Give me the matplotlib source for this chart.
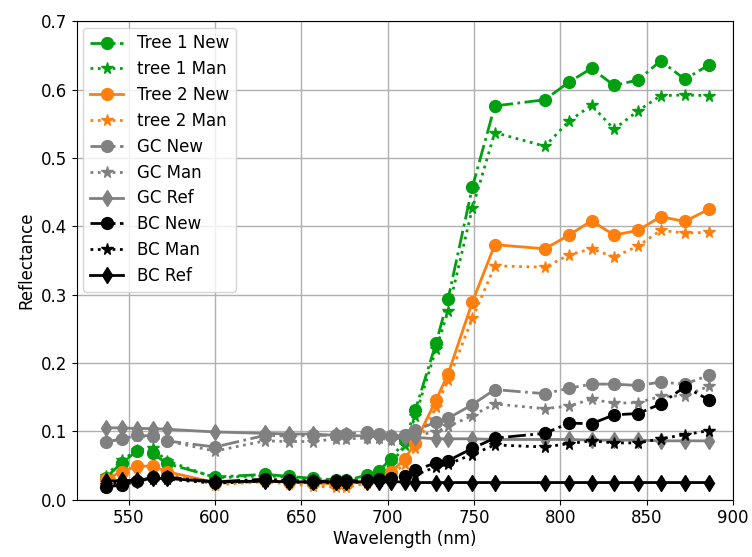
import matplotlib
matplotlib.use("Agg")
import matplotlib.pyplot as plt

# Band centres (nm)
wavelength = [537, 546, 555, 564, 572, 600, 629, 643, 657, 670, 676, 688, 695, 702,
              710, 716, 728, 735, 749, 762, 791, 805, 818, 831, 845, 858, 872, 886]

tree1_new = [0.032, 0.054, 0.071, 0.068, 0.053, 0.033, 0.037, 0.034, 0.031, 0.029, 0.028, 0.036, 0.042, 0.060,
             0.087, 0.131, 0.229, 0.294, 0.457, 0.576, 0.585, 0.611, 0.631, 0.606, 0.614, 0.642, 0.615, 0.636]
tree1_man = [0.035, 0.058, 0.072, 0.075, 0.057, 0.032, 0.035, 0.033, 0.028, 0.027, 0.026, 0.033, 0.038, 0.052,
             0.080, 0.122, 0.220, 0.276, 0.426, 0.537, 0.517, 0.554, 0.577, 0.542, 0.569, 0.591, 0.592, 0.591]
tree2_new = [0.030, 0.041, 0.049, 0.049, 0.041, 0.025, 0.028, 0.026, 0.024, 0.023, 0.023, 0.027, 0.030, 0.040,
             0.060, 0.083, 0.146, 0.184, 0.289, 0.373, 0.367, 0.387, 0.408, 0.387, 0.394, 0.414, 0.407, 0.425]
tree2_man = [0.027, 0.036, 0.046, 0.046, 0.038, 0.022, 0.026, 0.023, 0.020, 0.018, 0.018, 0.024, 0.028, 0.036,
             0.052, 0.075, 0.136, 0.175, 0.265, 0.342, 0.340, 0.358, 0.367, 0.355, 0.371, 0.394, 0.390, 0.391]
gc_new = [0.084, 0.089, 0.094, 0.093, 0.086, 0.077, 0.094, 0.093, 0.094, 0.094, 0.096, 0.099, 0.096, 0.093,
          0.094, 0.102, 0.113, 0.119, 0.139, 0.161, 0.155, 0.163, 0.169, 0.169, 0.167, 0.172, 0.169, 0.182]
gc_man = [0.084, 0.089, 0.093, 0.092, 0.086, 0.071, 0.086, 0.085, 0.085, 0.089, 0.089, 0.090, 0.090, 0.087,
          0.092, 0.094, 0.099, 0.107, 0.123, 0.140, 0.133, 0.137, 0.147, 0.141, 0.142, 0.151, 0.152, 0.166]
gc_ref = [0.105, 0.105, 0.104, 0.104, 0.103, 0.099, 0.097, 0.096, 0.096, 0.094, 0.094, 0.093, 0.093, 0.092,
          0.092, 0.091, 0.089, 0.089, 0.089, 0.088, 0.088, 0.088, 0.087, 0.087, 0.087, 0.086, 0.086, 0.086]
bc_new = [0.019, 0.021, 0.027, 0.033, 0.033, 0.026, 0.030, 0.028, 0.027, 0.027, 0.027, 0.028, 0.030, 0.031,
          0.034, 0.043, 0.054, 0.057, 0.075, 0.090, 0.097, 0.112, 0.111, 0.124, 0.126, 0.140, 0.165, 0.146]
bc_man = [0.022, 0.025, 0.028, 0.030, 0.030, 0.024, 0.027, 0.026, 0.025, 0.025, 0.025, 0.026, 0.027, 0.028,
          0.030, 0.036, 0.048, 0.052, 0.066, 0.080, 0.077, 0.082, 0.086, 0.083, 0.083, 0.089, 0.095, 0.101]
bc_ref = [0.027, 0.028, 0.028, 0.031, 0.031, 0.026, 0.027, 0.026, 0.026, 0.026, 0.026, 0.026, 0.026, 0.026,
          0.026, 0.025, 0.025, 0.025, 0.025, 0.025, 0.025, 0.025, 0.025, 0.025, 0.025, 0.025, 0.025, 0.025]

green = '#00a010'
orange = '#ff7f0e'
grey = 'grey'

series = [
    (tree1_new, 'Tree 1 New', green, '-.', 'o'),
    (tree1_man, 'tree 1 Man', green, ':', '*'),
    (tree2_new, 'Tree 2 New', orange, '-', 'o'),
    (tree2_man, 'tree 2 Man', orange, ':', '*'),
    (gc_new, 'GC New', grey, '-.', 'o'),
    (gc_man, 'GC Man', grey, ':', '*'),
    (gc_ref, 'GC Ref', grey, '-', 'd'),
    (bc_new, 'BC New', 'k', '-.', 'o'),
    (bc_man, 'BC Man', 'k', ':', '*'),
    (bc_ref, 'BC Ref', 'k', '-', 'd'),
]

plt.rcParams['font.size'] = 12

fig = plt.figure(figsize=(7.52, 5.57), dpi=100)
ax = fig.add_axes([0.102, 0.103, 0.873, 0.859])

for vals, label, col, ls, mk in series:
    ax.plot(wavelength, vals, linestyle=ls, marker=mk, color=col, label=label,
            linewidth=2, markersize=8.5)

ax.set_xlim(520, 900)
ax.set_ylim(0, 0.7)
ax.set_xlabel('Wavelength (nm)', labelpad=2)
ax.set_ylabel('Reflectance')
ax.grid(True, color='#b0b0b0', linewidth=1)
ax.legend(loc='upper left', borderaxespad=0.4, labelspacing=0.47)

fig.savefig('out.png', dpi=100)
